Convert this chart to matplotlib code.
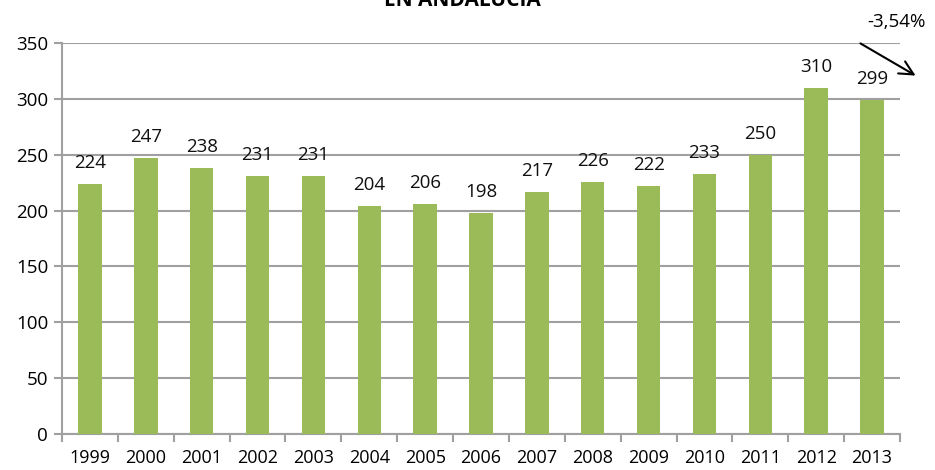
import matplotlib.pyplot as plt
import numpy as np

# Datos
anios = ['1999', '2000', '2001', '2002', '2003', '2004', '2005', '2006',
         '2007', '2008', '2009', '2010', '2011', '2012', '2013']
valores = [224, 247, 238, 231, 231, 204, 206, 198, 217, 226, 222, 233, 250, 310, 299]
titulo = 'EN ANDALUCIA'
variacion = '-3,54%'

verde = '#9BBB59'
gris = '#A0A0A0'

plt.rcParams['font.family'] = ['Open Sans', 'DejaVu Sans']

fig = plt.figure(figsize=(9.35, 4.7), dpi=100)
ax = fig.add_axes([62/935, 36/470, 838/935, 391/470])

x = np.arange(len(anios))
barras = ax.bar(x, valores, width=0.42, color=verde, zorder=3)

for b, v in zip(barras, valores):
    ax.text(b.get_x() + b.get_width()/2, v + 14, str(v), ha='center', va='baseline',
            fontsize=13.5, color='#101010')

ax.set_xlim(-0.5, len(anios) - 0.5)
ax.set_ylim(0, 350)
ax.set_yticks(range(0, 351, 50))
ax.yaxis.grid(True, color=gris, linewidth=1.5, zorder=0)

ax.set_xticks(x)
ax.set_xticklabels(anios, fontsize=13)
ax.set_xticks(np.arange(-0.5, len(anios), 1), minor=True)
ax.tick_params(axis='x', which='major', length=0, pad=11)
ax.tick_params(axis='x', which='minor', length=6, color=gris, width=1.5)
ax.tick_params(axis='y', labelsize=13.5, length=6, color=gris, width=1.5, pad=4)

for s in ['top', 'right']:
    ax.spines[s].set_visible(False)
for s in ['left', 'bottom']:
    ax.spines[s].set_color(gris)
    ax.spines[s].set_linewidth(1.5)

# título (cortado en el original)
fig.text(462/935, 1 - 6/470, titulo, ha='center', va='baseline', fontsize=15, fontweight='bold')

# flecha de variación
ax.annotate('', xy=(918/935, 1 - 77/470), xytext=(858/935, 1 - 42/470),
            xycoords='figure fraction', textcoords='figure fraction',
            arrowprops=dict(arrowstyle='->', color='black', lw=1.5, mutation_scale=25))
fig.text(896/935, 1 - 22/470, variacion, ha='center', va='center', fontsize=13.5)

fig.savefig('out.png', dpi=100)
